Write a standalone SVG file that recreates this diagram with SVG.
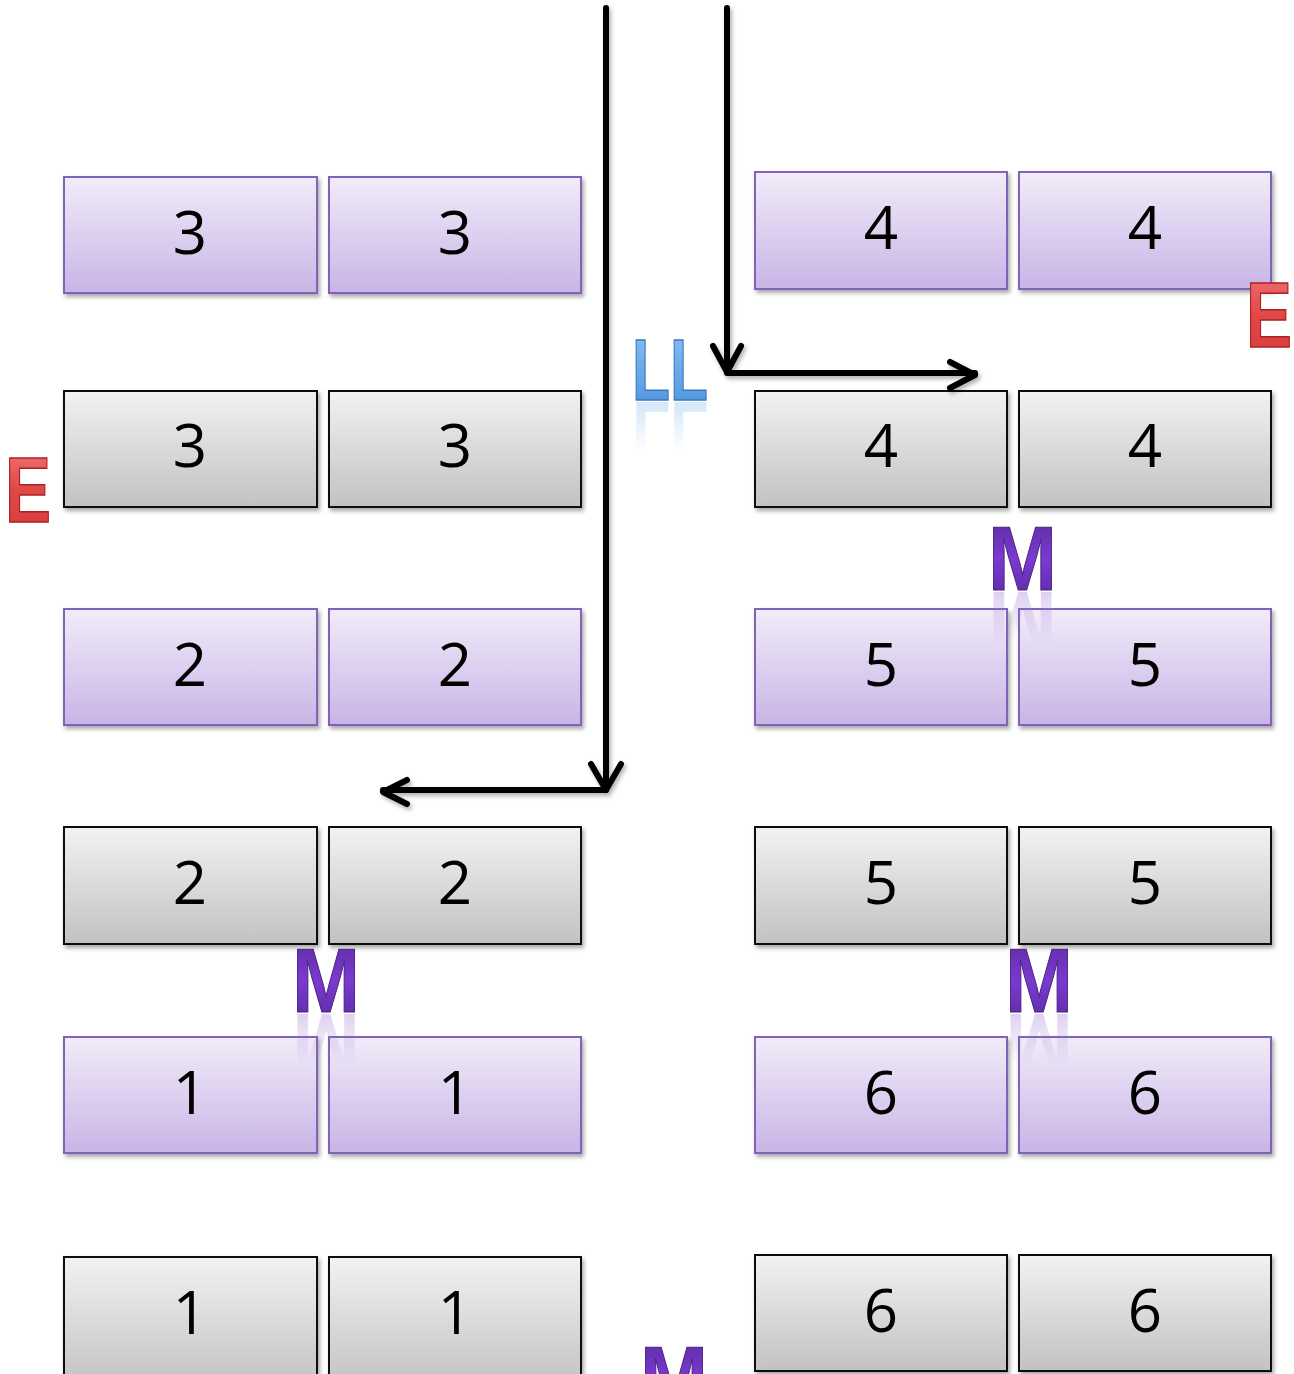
<svg xmlns="http://www.w3.org/2000/svg" width="1294" height="1374" viewBox="0 0 1294 1374">
<defs>
<linearGradient id="gp" x1="0" y1="0" x2="0" y2="1"><stop offset="0" stop-color="#f1ecf9"/><stop offset="1" stop-color="#c9b4e6"/></linearGradient>
<linearGradient id="gg" x1="0" y1="0" x2="0" y2="1"><stop offset="0" stop-color="#f2f2f2"/><stop offset="1" stop-color="#c2c2c2"/></linearGradient>
<linearGradient id="gred" x1="0" y1="0" x2="0" y2="1"><stop offset="0" stop-color="#f07a7a"/><stop offset="0.5" stop-color="#e04848"/><stop offset="1" stop-color="#d43a3a"/></linearGradient>
<linearGradient id="gblue" x1="0" y1="0" x2="0" y2="1"><stop offset="0" stop-color="#8cc4f4"/><stop offset="1" stop-color="#4a90dc"/></linearGradient>
<linearGradient id="gm" x1="0" y1="0" x2="0" y2="1"><stop offset="0" stop-color="#5a2a9a"/><stop offset="0.5" stop-color="#7a3ad0"/><stop offset="1" stop-color="#56289a"/></linearGradient>
<linearGradient id="rblue" x1="0" y1="0" x2="0" y2="1"><stop offset="0.3" stop-color="#7ab4ec" stop-opacity="0"/><stop offset="1" stop-color="#7ab4ec" stop-opacity="0.45"/></linearGradient>
<linearGradient id="rm" x1="0" y1="0" x2="0" y2="1"><stop offset="0.3" stop-color="#9a70d0" stop-opacity="0"/><stop offset="1" stop-color="#9a70d0" stop-opacity="0.45"/></linearGradient>
<filter id="sh" x="-10%" y="-10%" width="130%" height="140%"><feDropShadow dx="2" dy="3" stdDeviation="2" flood-color="#000" flood-opacity="0.35"/></filter>
<filter id="ash" x="-10%" y="-10%" width="130%" height="130%"><feDropShadow dx="2" dy="3" stdDeviation="2" flood-color="#000" flood-opacity="0.3"/></filter>
</defs>
<style>
.p{fill:url(#gp);stroke:#8064b8;stroke-width:2}
.g{fill:url(#gg);stroke:#111;stroke-width:2}
.n{font-family:"Open Sans","Liberation Sans",sans-serif;font-size:60px;fill:#000;text-anchor:middle}
.E{font-family:"Liberation Sans",sans-serif;font-weight:bold;font-size:92px;fill:url(#gred);stroke:#b02020;stroke-width:1.5}
.L{font-family:"Liberation Sans",sans-serif;font-weight:bold;font-size:88px;fill:url(#gblue);stroke:#3a78c0;stroke-width:1.5}
.M{font-family:"Liberation Sans",sans-serif;font-weight:bold;font-size:90px;fill:url(#gm);stroke:#4a2080;stroke-width:1}
.rL{font-family:"Liberation Sans",sans-serif;font-weight:bold;font-size:88px;fill:url(#rblue)}
.rM{font-family:"Liberation Sans",sans-serif;font-weight:bold;font-size:90px;fill:url(#rm)}
.a{fill:none;stroke:#000;stroke-width:6;stroke-linecap:round;stroke-linejoin:round}
</style>
<g id="boxes" filter="url(#sh)">
<g id="n3a"><rect class="p" x="64" y="177" width="253" height="116"/><text class="n" x="190" y="254">3</text></g>
<g id="n3b"><rect class="p" x="329" y="177" width="252" height="116"/><text class="n" x="455" y="254">3</text></g>
<g id="n4a"><rect class="p" x="755" y="172" width="252" height="117"/><text class="n" x="881" y="249">4</text></g>
<g id="n4b"><rect class="p" x="1019" y="172" width="252" height="117"/><text class="n" x="1145" y="249">4</text></g>
<g id="g3a"><rect class="g" x="64" y="391" width="253" height="116"/><text class="n" x="190" y="467">3</text></g>
<g id="g3b"><rect class="g" x="329" y="391" width="252" height="116"/><text class="n" x="455" y="467">3</text></g>
<g id="g4a"><rect class="g" x="755" y="391" width="252" height="116"/><text class="n" x="881" y="467">4</text></g>
<g id="g4b"><rect class="g" x="1019" y="391" width="252" height="116"/><text class="n" x="1145" y="467">4</text></g>
<g id="n2a"><rect class="p" x="64" y="609" width="253" height="116"/><text class="n" x="190" y="686">2</text></g>
<g id="n2b"><rect class="p" x="329" y="609" width="252" height="116"/><text class="n" x="455" y="686">2</text></g>
<g id="n5a"><rect class="p" x="755" y="609" width="252" height="116"/><text class="n" x="881" y="686">5</text></g>
<g id="n5b"><rect class="p" x="1019" y="609" width="252" height="116"/><text class="n" x="1145" y="686">5</text></g>
<g id="g2a"><rect class="g" x="64" y="827" width="253" height="117"/><text class="n" x="190" y="904">2</text></g>
<g id="g2b"><rect class="g" x="329" y="827" width="252" height="117"/><text class="n" x="455" y="904">2</text></g>
<g id="g5a"><rect class="g" x="755" y="827" width="252" height="117"/><text class="n" x="881" y="904">5</text></g>
<g id="g5b"><rect class="g" x="1019" y="827" width="252" height="117"/><text class="n" x="1145" y="904">5</text></g>
<g id="n1a"><rect class="p" x="64" y="1037" width="253" height="116"/><text class="n" x="190" y="1114">1</text></g>
<g id="n1b"><rect class="p" x="329" y="1037" width="252" height="116"/><text class="n" x="455" y="1114">1</text></g>
<g id="n6a"><rect class="p" x="755" y="1037" width="252" height="116"/><text class="n" x="881" y="1114">6</text></g>
<g id="n6b"><rect class="p" x="1019" y="1037" width="252" height="116"/><text class="n" x="1145" y="1114">6</text></g>
<g id="g1a"><rect class="g" x="64" y="1257" width="253" height="130"/><text class="n" x="190" y="1334">1</text></g>
<g id="g1b"><rect class="g" x="329" y="1257" width="252" height="130"/><text class="n" x="455" y="1334">1</text></g>
<g id="g6a"><rect class="g" x="755" y="1255" width="252" height="116"/><text class="n" x="881" y="1332">6</text></g>
<g id="g6b"><rect class="g" x="1019" y="1255" width="252" height="116"/><text class="n" x="1145" y="1332">6</text></g>
</g>
<g id="connectors" filter="url(#ash)">
<path class="a" d="M606 8 V790 H383"/>
<path class="a" d="M591 764 L606 790 L621 764"/>
<path class="a" d="M407 780 L383 792 L407 804"/>
<path class="a" d="M727 8 V373 H975"/>
<path class="a" d="M713 346 L727 372 L741 346"/>
<path class="a" d="M950 362 L975 375 L950 388"/>
</g>
<g id="labels">
<g id="E1"><text class="E" x="5" y="522" textLength="46" lengthAdjust="spacingAndGlyphs">E</text></g>
<g id="E2"><text class="E" x="1246" y="347" textLength="46" lengthAdjust="spacingAndGlyphs">E</text></g>
<g id="LL"><text class="L" x="632" y="400" textLength="76" lengthAdjust="spacingAndGlyphs">LL</text>
<text class="rL" x="632" y="-402" transform="scale(1,-1)" textLength="76" lengthAdjust="spacingAndGlyphs">LL</text></g>
<g id="M1"><text class="M" x="988" y="590" textLength="69" lengthAdjust="spacingAndGlyphs">M</text>
<text class="rM" x="988" y="-592" transform="scale(1,-1)" textLength="69" lengthAdjust="spacingAndGlyphs">M</text></g>
<g id="M2"><text class="M" x="292" y="1012" textLength="68" lengthAdjust="spacingAndGlyphs">M</text>
<text class="rM" x="292" y="-1014" transform="scale(1,-1)" textLength="68" lengthAdjust="spacingAndGlyphs">M</text></g>
<g id="M3"><text class="M" x="1005" y="1012" textLength="68" lengthAdjust="spacingAndGlyphs">M</text>
<text class="rM" x="1005" y="-1014" transform="scale(1,-1)" textLength="68" lengthAdjust="spacingAndGlyphs">M</text></g>
<g id="M4"><text class="M" x="640" y="1410" textLength="68" lengthAdjust="spacingAndGlyphs">M</text></g>
</g>
</svg>
